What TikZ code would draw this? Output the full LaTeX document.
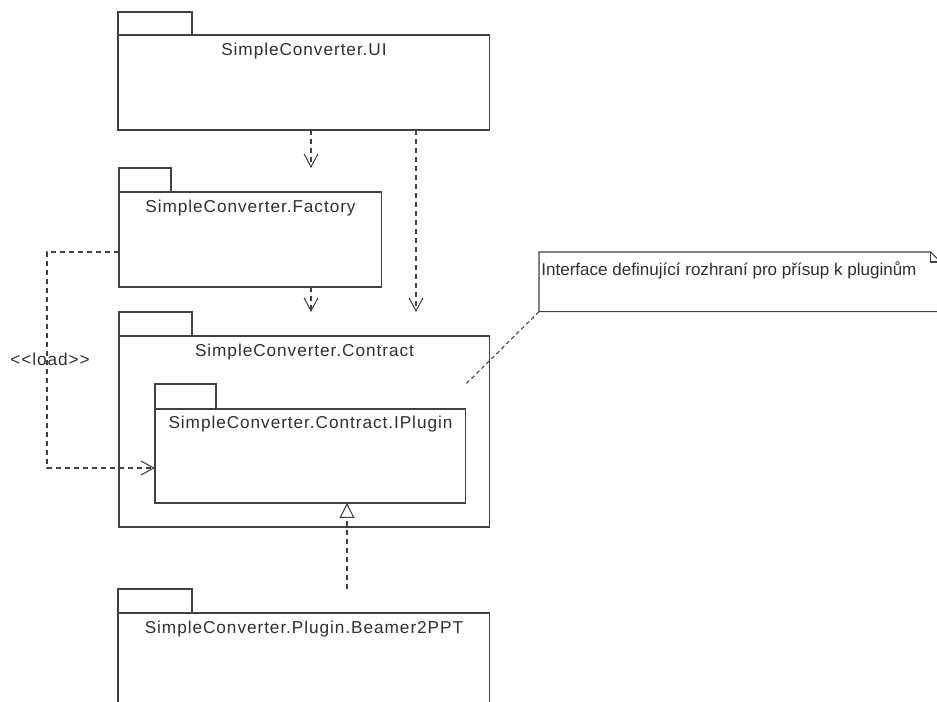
\documentclass[tikz,border=0pt]{standalone}
\usepackage{fontspec}
\setmainfont{Liberation Sans}
\newfontfamily\pkgfont[LetterSpace=5.5,Ligatures=TeXOff]{Liberation Sans}
\usetikzlibrary{arrows.meta}
\definecolor{umlline}{HTML}{404040}
\definecolor{umltext}{HTML}{303030}

\begin{document}
\begin{tikzpicture}[x=0.02cm,y=-0.02cm,
  umlbox/.style={draw=umlline,line width=0.6pt},
  pkg/.style={umlbox,fill=white,inner sep=0pt,outer sep=0pt,anchor=north west},
  pkgtab/.style={pkg,anchor=south west,minimum height=0.48cm},
  pkgtitle/.style={anchor=base,inner sep=0pt,text=umltext,font=\pkgfont\fontsize{9.8}{12}\selectfont},
  notetext/.style={anchor=base west,inner sep=0pt,text=umltext,font=\fontsize{9.7}{12}\selectfont},
  dep/.style={umlbox,dash pattern=on 0.1cm off 0.08cm,-{Straight Barb[length=7.4pt,width=7.9pt]}},
  gen/.style={umlbox,dash pattern=on 0.1cm off 0.08cm,-{Triangle[open,length=8.5pt,width=8.5pt,fill=white]}},
  notelink/.style={umlbox,dash pattern=on 0.08cm off 0.06cm}]
\useasboundingbox (0,0) rectangle (937,701);

% packages
\node[pkg,minimum width=7.44cm,minimum height=1.9cm] (ui) at (118,35) {};
\node[pkgtab,minimum width=1.48cm,minimum height=0.46cm] (uitab) at (ui.north west) {};
\node[pkgtitle] (uititle) at ([yshift=-0.4cm]ui.north) {SimpleConverter.UI};

\node[pkg,minimum width=5.26cm,minimum height=1.9cm] (factory) at (119,192) {};
\node[pkgtab,minimum width=1.04cm] (factorytab) at (factory.north west) {};
\node[pkgtitle] (factorytitle) at ([yshift=-0.4cm]factory.north) {SimpleConverter.Factory};

\node[pkg,minimum width=7.42cm,minimum height=3.82cm] (contract) at (119,336) {};
\node[pkgtab,minimum width=1.46cm] (contracttab) at (contract.north west) {};
\node[pkgtitle] (contracttitle) at ([yshift=-0.4cm]contract.north) {SimpleConverter.Contract};

\node[pkg,minimum width=6.22cm,minimum height=1.88cm] (iplugin) at (155,409) {};
\node[pkgtab,minimum width=1.22cm,minimum height=0.5cm] (iplugintab) at (iplugin.north west) {};
\node[pkgtitle] (iplugintitle) at ([yshift=-0.38cm]iplugin.north) {SimpleConverter.Contract.IPlugin};

\node[pkg,minimum width=7.44cm,minimum height=2.3cm] (beamer) at (118,613) {};
\node[pkgtab,minimum width=1.48cm] (beamertab) at (beamer.north west) {};
\node[pkgtitle] (beamertitle) at ([yshift=-0.4cm]beamer.north) {SimpleConverter.Plugin.Beamer2PPT};

% note
\node[inner sep=0pt,minimum width=8.02cm,minimum height=1.18cm,anchor=north west] (note) at (539,252) {};
\draw[umlbox,fill=white] (note.south west) -- (note.north west) -- ([xshift=-0.2cm]note.north east)
  -- ([yshift=-0.2cm]note.north east) -- (note.south east) -- cycle;
\draw[umlbox] ([xshift=-0.2cm]note.north east) |- ([yshift=-0.2cm]note.north east);
\node[notetext] (notelabel) at (541,275) {Interface definující rozhraní pro přísup k pluginům};

% dependencies
\coordinate (depa) at (311,0);
\coordinate (depb) at (416,0);
\coordinate (genx) at (347,0);
\draw[dep] (depa |- ui.south) -- (depa |- factorytab.north);
\draw[dep] (depa |- factory.south) -- (depa |- contracttab.north);
\draw[dep] (depb |- ui.south) -- (depb |- contracttab.north);
\draw[dep] ([yshift=0.7cm]factory.south west) -- ++(-72,0) |- ([yshift=0.7cm]iplugin.south west);
\node[pkgtitle] (loadlabel) at (50,365) {<<load>>};

\draw[gen] (genx |- beamertab.north) -- (genx |- iplugin.south);
\draw[notelink] (note.south west) -- (iplugin.north east |- iplugintab.north);
\end{tikzpicture}
\end{document}
